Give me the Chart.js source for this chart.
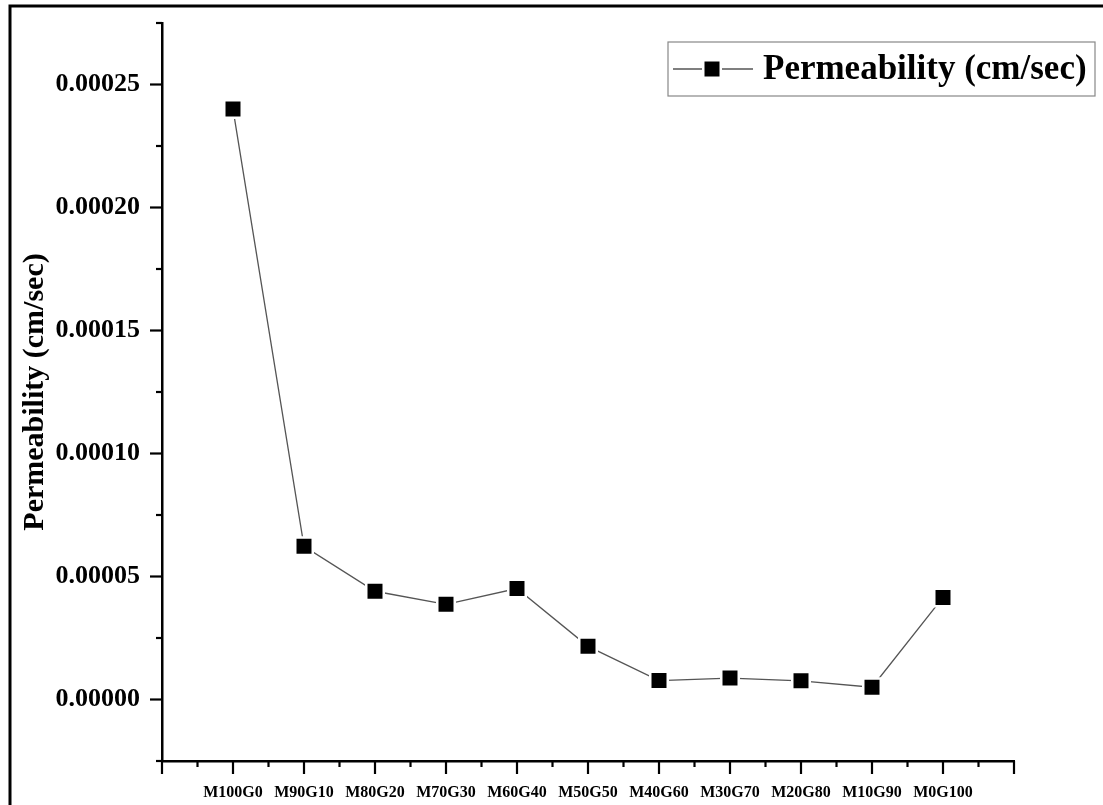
<!DOCTYPE html>
<html>
<head>
<meta charset="utf-8">
<script src="https://cdn.jsdelivr.net/npm/chart.js@4.4.1/dist/chart.umd.min.js"></script>
<style>
  html, body { margin: 0; padding: 0; background: #fff; }
  #wrap { position: relative; width: 1103px; height: 805px; }
</style>
</head>
<body>
<div id="wrap"><canvas id="chart" width="1103" height="805"></canvas></div>
<script>
// Mix designations (M = first material %, G = second material %)
const categories = ['M100G0', 'M90G10', 'M80G20', 'M70G30', 'M60G40', 'M50G50',
                    'M40G60', 'M30G70', 'M20G80', 'M10G90', 'M0G100'];
// Coefficient of permeability, cm/sec
const permeability = [0.000240, 0.0000623, 0.0000440, 0.0000387, 0.0000451, 0.0000216,
                      0.0000077, 0.0000087, 0.0000076, 0.0000050, 0.0000415];
const seriesLabel = 'Permeability (cm/sec)';
const yAxisTitle = 'Permeability (cm/sec)';
const yMin = -0.000025, yMax = 0.000275, yStep = 0.000025;
const xMin = -1, xMax = 11;

const SERIF = '"Liberation Serif", "Times New Roman", serif';
const LINE_COLOR = '#555';

const points = permeability.map((v, i) => ({ x: i, y: v }));

// Outer frame, hand-drawn tick marks (major/minor) and the inset legend box
const decorations = {
  id: 'decorations',
  beforeDraw(chart) {
    const ctx = chart.ctx;
    ctx.save();
    ctx.fillStyle = '#fff';
    ctx.fillRect(0, 0, chart.width, chart.height);
    ctx.strokeStyle = '#000';
    ctx.lineWidth = 3;
    ctx.beginPath();
    ctx.moveTo(10, chart.height);
    ctx.lineTo(10, 6);
    ctx.lineTo(chart.width, 6);
    ctx.stroke();
    ctx.restore();
  },
  afterDraw(chart) {
    const ctx = chart.ctx;
    const xs = chart.scales.x, ys = chart.scales.y;
    ctx.save();
    ctx.strokeStyle = '#000';
    ctx.lineWidth = 2.2;
    ctx.lineCap = 'butt';
    // y ticks point outward (left)
    ys.ticks.forEach(t => {
      const p = ys.getPixelForValue(t.value);
      const major = Math.round(t.value / yStep) % 2 === 0;
      const len = major ? 12 : 6;
      ctx.beginPath();
      ctx.moveTo(ys.right - len, p);
      ctx.lineTo(ys.right, p);
      ctx.stroke();
    });
    // x ticks point outward (down)
    xs.ticks.forEach(t => {
      const p = xs.getPixelForValue(t.value);
      const major = Math.abs(t.value - Math.round(t.value)) < 1e-9;
      const len = major ? 13 : 6;
      ctx.beginPath();
      ctx.moveTo(p, xs.top);
      ctx.lineTo(p, xs.top + len);
      ctx.stroke();
    });

    // legend box
    const bx = 668, by = 42, bw = 427, bh = 54;
    ctx.fillStyle = '#fff';
    ctx.fillRect(bx, by, bw, bh);
    ctx.strokeStyle = '#888';
    ctx.lineWidth = 1.2;
    ctx.strokeRect(bx, by, bw, bh);
    const cy = by + bh / 2;
    const ds = chart.data.datasets[0];
    ctx.strokeStyle = ds.borderColor;
    ctx.lineWidth = ds.borderWidth;
    ctx.beginPath();
    ctx.moveTo(673, cy);
    ctx.lineTo(753, cy);
    ctx.stroke();
    // marker with white halo
    const side = 17.5;
    ctx.fillStyle = ds.pointBackgroundColor;
    ctx.fillRect(712 - side / 2, cy - side / 2, side, side);
    ctx.strokeStyle = ds.pointBorderColor;
    ctx.lineWidth = ds.pointBorderWidth;
    ctx.strokeRect(712 - side / 2, cy - side / 2, side, side);
    ctx.fillStyle = '#000';
    ctx.font = 'bold 35px ' + SERIF;
    ctx.textAlign = 'left';
    ctx.textBaseline = 'middle';
    ctx.fillText(ds.label, 763, cy + 1);
    ctx.restore();
  }
};

new Chart(document.getElementById('chart'), {
  type: 'line',
  data: {
    datasets: [{
      label: seriesLabel,
      data: points,
      borderColor: LINE_COLOR,
      borderWidth: 1.3,
      pointStyle: 'rect',
      pointRadius: 12.37,
      pointHoverRadius: 12.37,
      pointBackgroundColor: '#000',
      pointBorderColor: '#fff',
      pointBorderWidth: 2.5,
      tension: 0,
      clip: false
    }]
  },
  options: {
    responsive: false,
    animation: false,
    events: [],
    layout: { padding: { left: 12, top: 23, right: 89, bottom: 0 } },
    plugins: {
      legend: { display: false },
      tooltip: { enabled: false }
    },
    scales: {
      x: {
        type: 'linear',
        min: xMin,
        max: xMax,
        grid: { display: false, drawTicks: false },
        border: { display: true, color: '#000', width: 2.5 },
        afterBuildTicks(scale) {
          const ticks = [];
          for (let v = xMin * 2; v <= xMax * 2; v++) ticks.push({ value: v / 2 });
          scale.ticks = ticks;
        },
        ticks: {
          autoSkip: false,
          maxRotation: 0,
          padding: 22,
          color: '#000',
          font: { family: SERIF, size: 16, weight: 'bold' },
          callback(value) {
            const i = Math.round(value);
            if (Math.abs(value - i) > 1e-9) return '';
            return categories[i] !== undefined ? categories[i] : '';
          }
        },
        afterFit(scale) {
          scale.height = 44;
          scale.paddingLeft = 0;
          scale.paddingRight = 0;
        }
      },
      y: {
        min: yMin,
        max: yMax,
        grid: { display: false, drawTicks: false },
        border: { display: true, color: '#000', width: 2.5 },
        afterBuildTicks(scale) {
          const ticks = [];
          for (let k = Math.round(yMin / yStep); k <= Math.round(yMax / yStep); k++) {
            ticks.push({ value: k * yStep });
          }
          scale.ticks = ticks;
        },
        ticks: {
          autoSkip: false,
          padding: 22,
          color: '#000',
          font: { family: SERIF, size: 26, weight: 'bold' },
          callback(value) {
            const k = Math.round(value / yStep);
            return k % 2 === 0 ? (k * yStep).toFixed(5) : '';
          }
        },
        title: {
          display: true,
          text: yAxisTitle,
          color: '#000',
          padding: { top: 8, bottom: 0 },
          font: { family: SERIF, size: 30, weight: 'bold', lineHeight: 1 }
        },
        afterFit(scale) {
          scale.width = 150;
          scale.paddingTop = 0;
          scale.paddingBottom = 0;
        }
      }
    }
  },
  plugins: [decorations]
});
</script>
</body>
</html>
